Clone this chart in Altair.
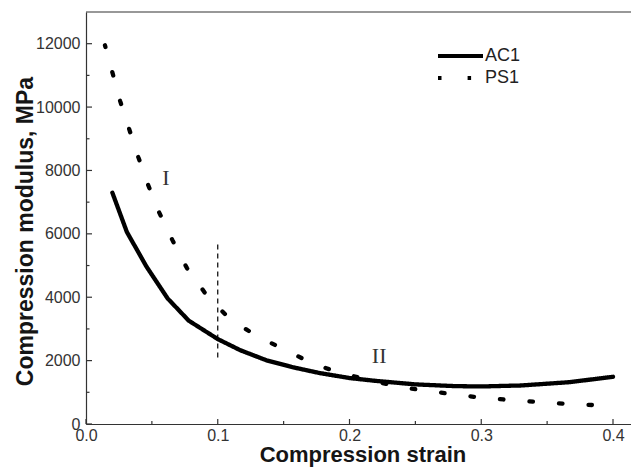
import altair as alt
import pandas as pd

# ---- data ----
ac1_strain = [0.020, 0.031, 0.046, 0.062, 0.078, 0.100, 0.117, 0.137, 0.157, 0.177,
              0.200, 0.220, 0.250, 0.280, 0.300, 0.330, 0.367, 0.400]
ac1_modulus = [7300, 6060, 4960, 3960, 3260, 2680, 2330, 2010, 1790, 1610,
               1450, 1360, 1250, 1195, 1185, 1215, 1320, 1490]

ps1_strain = [0.0144, 0.0203, 0.0260, 0.0329, 0.0397, 0.0471, 0.0556, 0.0655, 0.0766, 0.0920,
              0.1100, 0.1313, 0.1523, 0.1732, 0.1940, 0.2150, 0.2365, 0.2577, 0.2787, 0.3000,
              0.3210, 0.3420, 0.3630, 0.3840]
ps1_modulus = [11950, 11050, 10180, 9290, 8420, 7550, 6670, 5810, 4920, 4040,
               3280, 2740, 2315, 1885, 1600, 1390, 1180, 1050, 940, 830,
               760, 695, 640, 600]

series_names = ["AC1", "PS1"]

x_ticks = [0.0, 0.1, 0.2, 0.3, 0.4]
x_minor = [0.05, 0.15, 0.25, 0.35]
y_ticks = [0, 2000, 4000, 6000, 8000, 10000, 12000]
y_minor = [1000, 3000, 5000, 7000, 9000, 11000]

region_labels = ["I", "II"]
region_x = [0.0607, 0.2225]
region_y = [7770, 2130]

boundary_strain = [0.1]
boundary_low = [2100]
boundary_high = [5750]

# ---- layout ----
W, H = 545, 412
XMAX = W / 1317.5
YMAX = 13000

lines = pd.DataFrame({
    "strain": ac1_strain + ps1_strain,
    "modulus": ac1_modulus + ps1_modulus,
    "series": [series_names[0]] * len(ac1_strain) + [series_names[1]] * len(ps1_strain),
})

xs = alt.Scale(domain=[0, XMAX], nice=False, zero=False)
ys = alt.Scale(domain=[0, YMAX], nice=False, zero=False)

FONT = "Liberation Sans"

x_axis = alt.Axis(values=x_ticks, format=".1f", ticks=False, grid=False,
                  labelFlush=False, labelOverlap=False,
                  labelPadding=3, labelFontSize=16, labelFont=FONT, labelColor="#333",
                  domainColor="#333", domainWidth=1.2,
                  title="Compression strain", titleFont=FONT, titleFontSize=22,
                  titleFontWeight="bold", titleColor="#151515",
                  titleBaseline="alphabetic", titleY=37, titleX=276.5)
y_axis = alt.Axis(values=y_ticks, format="d", ticks=False, grid=False,
                  labelFlush=False, labelOverlap=False,
                  labelPadding=6, labelFontSize=16, labelFont=FONT, labelColor="#333",
                  domainColor="#333", domainWidth=1.2,
                  title="Compression modulus, MPa", titleFont=FONT, titleFontSize=23,
                  titleFontWeight="bold", titleColor="#151515",
                  titleAngle=270, titleBaseline="alphabetic", titleX=-54, titleY=219)

legend = alt.Legend(orient="none", legendX=350, legendY=35, title=None,
                    symbolType="stroke", symbolSize=2025, symbolStrokeWidth=4,
                    symbolStrokeColor="black", labelFont=FONT, labelFontSize=18,
                    labelColor="#222", labelOffset=0, padding=0, rowPadding=4,
                    clipHeight=18)


def X(field):
    return alt.X(field, scale=xs, axis=x_axis)


def Y(field):
    return alt.Y(field, scale=ys, axis=y_axis)


line_layer = alt.Chart(lines).mark_line(
    color="black", strokeWidth=4.3, strokeCap="round", strokeJoin="round", strokeDashOffset=1.75
).encode(
    x=X("strain:Q"),
    y=Y("modulus:Q"),
    strokeDash=alt.StrokeDash("series:N",
                              scale=alt.Scale(domain=series_names, range=[[1, 0], [3.5, 26.1]]),
                              legend=legend),
    detail="series:N",
)

# inward ticks
ymaj = alt.Chart(pd.DataFrame({"v": y_ticks})).mark_rule(color="#333", strokeWidth=1.2).encode(
    y=Y("v:Q"), x=alt.value(0), x2=alt.value(6))
ymin = alt.Chart(pd.DataFrame({"v": y_minor})).mark_rule(color="#333", strokeWidth=1.2).encode(
    y=Y("v:Q"), x=alt.value(0), x2=alt.value(3.5))
xmaj = alt.Chart(pd.DataFrame({"v": x_ticks})).mark_rule(color="#333", strokeWidth=1.2).encode(
    x=X("v:Q"), y=alt.value(H), y2=alt.value(H - 5))
xmin = alt.Chart(pd.DataFrame({"v": x_minor})).mark_rule(color="#333", strokeWidth=1.2).encode(
    x=X("v:Q"), y=alt.value(H), y2=alt.value(H - 3))

top_frame = alt.Chart(pd.DataFrame({"v": [YMAX]})).mark_rule(color="#333", strokeWidth=1.2).encode(
    y=Y("v:Q"), x=alt.value(0), x2=alt.value(W))

boundary = alt.Chart(pd.DataFrame({"x": boundary_strain, "lo": boundary_low, "hi": boundary_high})
                     ).mark_rule(color="black", strokeWidth=1.2, strokeDash=[5, 4]).encode(
    x=X("x:Q"),
    y=Y("lo:Q"),
    y2="hi:Q")

regions = alt.Chart(pd.DataFrame({"x": region_x, "y": region_y, "t": region_labels})
                    ).mark_text(font="Liberation Serif", fontSize=22, color="#333",
                                baseline="middle", align="center").encode(
    x=X("x:Q"),
    y=Y("y:Q"),
    text="t:N")

chart = alt.layer(line_layer, ymaj, ymin, xmaj, xmin, top_frame, boundary, regions).properties(
    width=W, height=H,
    autosize=alt.AutoSizeParams(type="none"),
    padding={"left": 78, "top": 4, "right": 0, "bottom": 43},
).configure_view(stroke=None)

chart.save("out.html", embed_options={"renderer": "svg", "actions": False})
